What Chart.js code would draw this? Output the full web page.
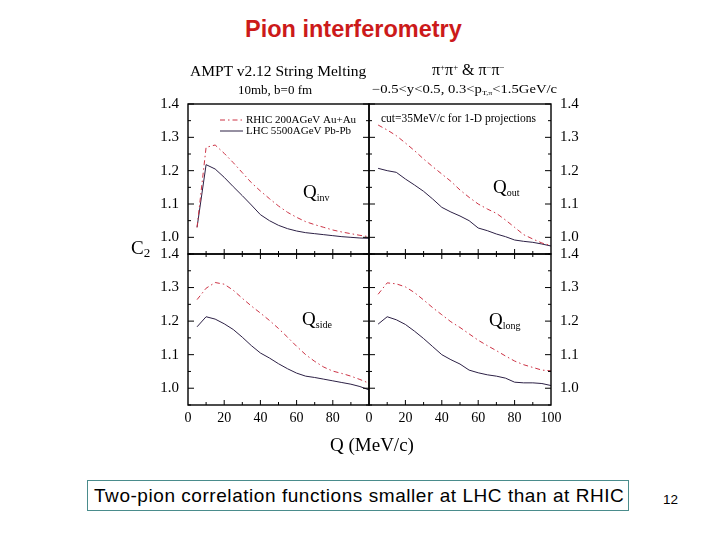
<!DOCTYPE html>
<html>
<head>
<meta charset="utf-8">
<script src="https://cdn.jsdelivr.net/npm/chart.js@4.4.1/dist/chart.umd.min.js"></script>
<style>
  body { margin: 0; width: 720px; height: 540px; background: #fff; position: relative; overflow: hidden; }
  canvas { position: absolute; z-index: 1; }
  .t { position: absolute; white-space: nowrap; line-height: 1; color: #000; z-index: 2; font-family: "Liberation Serif", "DejaVu Serif", serif; }
  .t sub { font-size: 0.55em; vertical-align: -0.25em; }
  .t sup { font-size: 0.55em; vertical-align: 0.55em; }
  .sans { font-family: "Liberation Sans", Arial, sans-serif; }
  #title { left: 245px; top: 18px; font-size: 23.5px; font-weight: bold; color: #cc1a1a; }
  #box { position: absolute; left: 87px; top: 480px; width: 540px; height: 29px; border: 1.5px solid #4a8c8c; z-index: 2; }
</style>
</head>
<body>
<div class="t sans" id="title">Pion interferometry</div>

<div class="t" style="left:190px; top:63px; font-size:15.5px;">AMPT v2.12 String Melting</div>
<div class="t" style="left:238px; top:83px; font-size:13px;">10mb, b=0 fm</div>
<div class="t" style="left:432px; top:62px; font-size:16px;">π<sup>+</sup>π<sup>+</sup> &amp; π<sup>−</sup>π<sup>−</sup></div>
<div class="t" style="left:372px; top:83px; font-size:12px; transform:scaleX(1.22); transform-origin:left;">−0.5&lt;y&lt;0.5, 0.3&lt;p<sub>T,π</sub>&lt;1.5GeV/c</div>
<div class="t" style="left:381px; top:113px; font-size:11.5px;">cut=35MeV/c for 1-D projections</div>

<div class="t" style="left:303px; top:182px; font-size:19px;">Q<sub style="font-size:10px">inv</sub></div>
<div class="t" style="left:493px; top:177px; font-size:19px;">Q<sub style="font-size:10px">out</sub></div>
<div class="t" style="left:302px; top:309px; font-size:19px;">Q<sub style="font-size:10px">side</sub></div>
<div class="t" style="left:489px; top:310px; font-size:19px;">Q<sub style="font-size:10px">long</sub></div>

<div class="t" style="left:131px; top:238px; font-size:19px;">C<sub style="font-size:13px">2</sub></div>
<div class="t" style="left:330px; top:435px; font-size:19px;">Q (MeV/c)</div>

<div id="box"></div>
<div class="t sans" style="left:94px; top:486px; font-size:19px; letter-spacing:0.55px;">Two-pion correlation functions smaller at LHC than at RHIC</div>
<div class="t sans" style="left:663px; top:493px; font-size:13.5px;">12</div>

<script>
// bin centres (MeV/c)
const qBins = [5, 10, 15, 20, 25, 30, 35, 40, 45, 50, 55, 60, 65, 70, 75, 80, 85, 90, 95, 100];

const qinvRHIC = [1.030, 1.270, 1.277, 1.252, 1.224, 1.194, 1.164, 1.139, 1.116, 1.094, 1.075, 1.060, 1.047, 1.038, 1.030, 1.022, 1.016, 1.011, 1.006, 1.002];
const qinvLHC  = [1.030, 1.218, 1.205, 1.180, 1.152, 1.125, 1.097, 1.068, 1.050, 1.036, 1.026, 1.019, 1.014, 1.011, 1.008, 1.005, 1.002, 1.000, 0.998, 0.997];

const qoutRHIC = [1.337, 1.322, 1.305, 1.283, 1.260, 1.235, 1.212, 1.190, 1.168, 1.142, 1.120, 1.100, 1.085, 1.072, 1.052, 1.030, 1.008, 0.995, 0.983, 0.975];
const qoutLHC  = [1.207, 1.200, 1.195, 1.175, 1.157, 1.138, 1.115, 1.090, 1.076, 1.064, 1.050, 1.028, 1.020, 1.010, 1.002, 0.992, 0.988, 0.985, 0.980, 0.974];

const qsideRHIC = [1.264, 1.298, 1.315, 1.310, 1.292, 1.268, 1.245, 1.224, 1.202, 1.178, 1.152, 1.125, 1.100, 1.080, 1.063, 1.051, 1.044, 1.036, 1.026, 1.015];
const qsideLHC  = [1.183, 1.213, 1.206, 1.192, 1.175, 1.152, 1.127, 1.105, 1.090, 1.073, 1.058, 1.045, 1.036, 1.032, 1.027, 1.022, 1.017, 1.012, 1.005, 0.995];

const qlongRHIC = [1.280, 1.314, 1.311, 1.302, 1.285, 1.263, 1.240, 1.219, 1.198, 1.181, 1.162, 1.143, 1.127, 1.112, 1.096, 1.081, 1.070, 1.062, 1.054, 1.052];
const qlongLHC  = [1.191, 1.213, 1.204, 1.190, 1.170, 1.148, 1.124, 1.100, 1.085, 1.072, 1.054, 1.046, 1.040, 1.036, 1.030, 1.018, 1.016, 1.016, 1.014, 1.008];

const seriesNames = ['RHIC 200AGeV Au+Au', 'LHC 5500AGeV Pb-Pb'];
const xTicksLeft = [0, 20, 40, 60, 80];
const xTicksRight = [0, 20, 40, 60, 80, 100];
const yTicks = [1.0, 1.1, 1.2, 1.3, 1.4];

const RHIC_COLOR = '#cc3345';
const LHC_COLOR = '#2c2045';
const SERIF = '"Liberation Serif", "DejaVu Serif", serif';

const PAD = 12, YW = 40, XH = 28;

const framePlugin = {
  id: 'frame',
  afterDatasetsDraw(chart, args, opts) {
    const { ctx, chartArea: a, scales: { x, y } } = chart;
    ctx.save();
    ctx.strokeStyle = '#000';
    ctx.lineWidth = 1;
    ctx.beginPath();
    for (let v = 10; v < 100; v += 10) {
      const px = x.getPixelForValue(v);
      const len = v % 20 === 0 ? 5 : 3;
      ctx.moveTo(px, a.bottom); ctx.lineTo(px, a.bottom - len);
      if (opts.topTicks) { ctx.moveTo(px, a.top); ctx.lineTo(px, a.top + len); }
    }
    for (let i = 0; i <= 9; i++) {
      const v = 0.95 + i * 0.05;
      const py = y.getPixelForValue(v);
      const len = i % 2 === 1 ? 6 : 3;
      ctx.moveTo(a.left, py); ctx.lineTo(a.left + len, py);
      ctx.moveTo(a.right, py); ctx.lineTo(a.right - len, py);
    }
    ctx.stroke();
    ctx.lineWidth = 1.4;
    ctx.strokeRect(a.left, a.top, a.right - a.left, a.bottom - a.top);
    ctx.restore();
  }
};

const keyPlugin = {
  id: 'seriesKey',
  afterDraw(chart, args, opts) {
    if (!opts.show) return;
    const { ctx, chartArea: a } = chart;
    ctx.save();
    ctx.font = '11px ' + SERIF;
    ctx.fillStyle = '#000';
    ctx.textBaseline = 'alphabetic';
    chart.data.datasets.forEach((ds, i) => {
      const yy = a.top + 16 + i * 11;
      ctx.strokeStyle = ds.borderColor;
      ctx.lineWidth = 1;
      ctx.setLineDash(ds.borderDash || []);
      ctx.beginPath();
      ctx.moveTo(a.left + 32, yy); ctx.lineTo(a.left + 55, yy);
      ctx.stroke();
      ctx.fillText(ds.label, a.left + 58, yy + 3);
    });
    ctx.restore();
  }
};

const panels = [
  { rhic: qinvRHIC,  lhc: qinvLHC,  x0: 188, x1: 369, y0: 104, y1: 254, yPos: 'left',  showX: false, xTicks: xTicksLeft,  key: true,  topTicks: false },
  { rhic: qoutRHIC,  lhc: qoutLHC,  x0: 369, x1: 551, y0: 104, y1: 254, yPos: 'right', showX: false, xTicks: xTicksRight, key: false, topTicks: false },
  { rhic: qsideRHIC, lhc: qsideLHC, x0: 188, x1: 369, y0: 254, y1: 405, yPos: 'left',  showX: true,  xTicks: xTicksLeft,  key: false, topTicks: true },
  { rhic: qlongRHIC, lhc: qlongLHC, x0: 369, x1: 551, y0: 254, y1: 405, yPos: 'right', showX: true,  xTicks: xTicksRight, key: false, topTicks: true }
];

panels.forEach(p => {
  const c = document.createElement('canvas');
  const leftSpace = PAD + (p.yPos === 'left' ? YW : 0);
  const rightSpace = PAD + (p.yPos === 'right' ? YW : 0);
  const bottomSpace = PAD + (p.showX ? XH : 0);
  const w = leftSpace + (p.x1 - p.x0) + rightSpace;
  const h = PAD + (p.y1 - p.y0) + bottomSpace;
  c.width = w;
  c.height = h;
  c.style.width = w + 'px';
  c.style.height = h + 'px';
  document.body.appendChild(c);

  const chart = new Chart(c, {
    type: 'line',
    data: {
      datasets: [
        {
          label: seriesNames[0],
          data: qBins.map((q, i) => ({ x: q, y: p.rhic[i] })),
          borderColor: RHIC_COLOR,
          borderDash: [5, 3, 1.5, 3],
          borderWidth: 1,
          pointRadius: 0,
          tension: 0
        },
        {
          label: seriesNames[1],
          data: qBins.map((q, i) => ({ x: q, y: p.lhc[i] })),
          borderColor: LHC_COLOR,
          borderWidth: 1,
          pointRadius: 0,
          tension: 0
        }
      ]
    },
    options: {
      responsive: false,
      maintainAspectRatio: false,
      animation: false,
      layout: { padding: PAD },
      plugins: {
        legend: { display: false },
        tooltip: { enabled: false },
        frame: { topTicks: p.topTicks },
        seriesKey: { show: p.key }
      },
      scales: {
        x: {
          type: 'linear', min: 0, max: 100,
          display: p.showX,
          afterBuildTicks: s => { s.ticks = p.xTicks.map(v => ({ value: v })); },
          afterFit: s => { s.height = p.showX ? XH : 0; },
          grid: { display: false, drawTicks: false },
          border: { display: false },
          ticks: { color: '#000', font: { family: SERIF, size: 14 }, padding: 5, maxRotation: 0, autoSkip: false }
        },
        y: {
          type: 'linear', min: 0.95, max: 1.4,
          position: p.yPos,
          afterBuildTicks: s => { s.ticks = yTicks.map(v => ({ value: v })); },
          afterFit: s => { s.width = YW; },
          grid: { display: false, drawTicks: false },
          border: { display: false },
          ticks: { color: '#000', font: { family: SERIF, size: 15 }, padding: 9, autoSkip: false, callback: v => v.toFixed(1) }
        }
      }
    },
    plugins: [framePlugin, keyPlugin]
  });

  // grow the canvas until the plot area has the wanted size, then place it
  let a = chart.chartArea;
  const dw = (p.x1 - p.x0) - (a.right - a.left);
  const dh = (p.y1 - p.y0) - (a.bottom - a.top);
  if (Math.abs(dw) > 0.5 || Math.abs(dh) > 0.5) {
    chart.resize(w + dw, h + dh);
    a = chart.chartArea;
  }
  c.style.left = (p.x0 - a.left) + 'px';
  c.style.top = (p.y0 - a.top) + 'px';
});
</script>
</body>
</html>
